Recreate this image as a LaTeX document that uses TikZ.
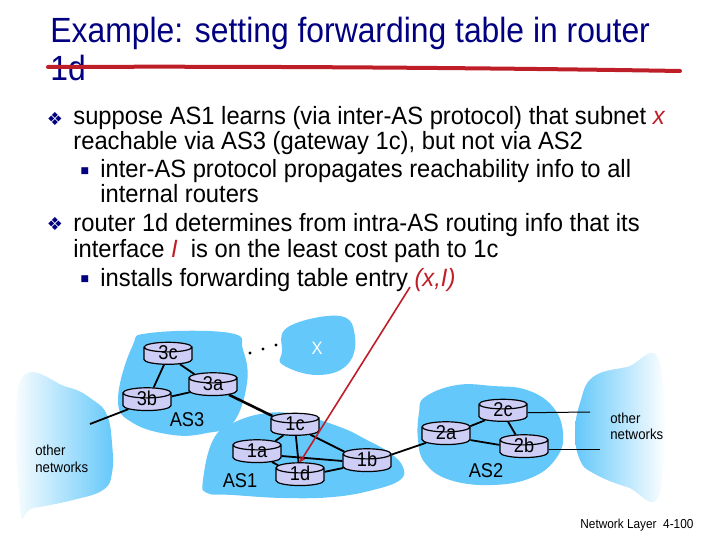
\documentclass[tikz,border=0pt]{standalone}
\usepackage{fontspec}
\setmainfont{Liberation Sans}[FakeStretch=0.91]
\newfontfamily\bodyfont{Liberation Sans}[FakeStretch=0.95]
\newfontfamily\dejavu{DejaVu Sans}
\usetikzlibrary{shapes.geometric}
\definecolor{navy}{RGB}{0,0,128}
\definecolor{slidered}{RGB}{190,30,40}
\definecolor{asblue}{RGB}{100,200,250}
\definecolor{puck}{RGB}{205,205,245}
\begin{document}
\begin{tikzpicture}[x=1pt, y=-1pt, >=stealth, thick,
  txt/.style={anchor=base west, inner sep=0pt, font=\bodyfont\fontsize{25}{25}\selectfont},
  ttl/.style={anchor=base west, inner sep=0pt, text=navy, font=\fontsize{35}{35}\selectfont},
  bul/.style={inner sep=0pt, text=navy, font=\dejavu\fontsize{18}{18}\selectfont},
  subbul/.style={inner sep=0pt, text=navy, font=\dejavu\fontsize{9}{9}\selectfont},
  router/.style={cylinder, shape border rotate=90, aspect=0.5, draw, line width=1.2pt,
    cylinder uses custom fill, cylinder body fill=puck, cylinder end fill=puck,
    minimum width=48pt, minimum height=21pt, inner sep=0pt,
    text height=7pt, text depth=-7pt, font=\fontsize{20}{20}\selectfont},
  wire/.style={line width=1.8pt},
  aslabel/.style={font=\fontsize{20}{20}\selectfont},
  small/.style={anchor=base west, inner sep=0pt, font=\fontsize{14.5}{14.5}\selectfont}]
\useasboundingbox (0,0) rectangle (720,540);

% title
\node[ttl] (title1) at (50,43) {Example: setting forwarding table in router};
\node[ttl] (title2) at (50,81) {1d};
\coordinate (ul1) at (48,67);
\coordinate (ul2) at (680,71);
\draw[slidered, line width=4pt, line cap=round] (ul1) .. controls (250,66) and (500,68) .. (ul2);

% bullets
\node[bul] (b1) at (55,119) {❖};
\node[txt] (l1) at (73,125) {suppose AS1 learns (via inter-AS protocol) that subnet \textcolor{slidered}{\textit{x}}};
\node[txt] (l2) at (73,150) {reachable via AS3 (gateway 1c), but not via AS2};
\node[subbul] (s1) at (85,171) {■};
\node[txt] (l3) at (100,178) {inter-AS protocol propagates reachability info to all};
\node[txt] (l4) at (100,203) {internal routers};
\node[bul] (b2) at (55,224) {❖};
\node[txt] (l5) at (73,231) {router 1d determines from intra-AS routing info that its};
\node[txt] (l6) at (73,257) {interface \textcolor{slidered}{\textit{I}}\ \ is on the least cost path to 1c};
\node[subbul] (s2) at (85,279) {■};
\node[txt] (l7) at (100,286) {installs forwarding table entry \textcolor{slidered}{\textit{(x,I)}}};

% clouds
\shade[left color=white, right color=asblue] plot[smooth cycle, tension=0.7] coordinates
  {(20,382) (67,387) (93,400) (107,415) (112,443) (112,473) (103,490) (73,500) (33,508) (20,508)};
\shade[left color=asblue, right color=white] plot[smooth cycle, tension=0.7] coordinates
  {(580,403) (593,377) (627,367) (660,363) (660,492) (627,487) (593,473) (580,460) (575,433)};
\fill[asblue] plot[smooth cycle, tension=0.7] coordinates
  {(150,333) (230,333) (243,350) (247,383) (233,423) (207,433) (173,435) (133,423) (118,400) (132,347)};
\fill[asblue] plot[smooth cycle, tension=0.7] coordinates
  {(288,327) (340,316) (355,337) (347,365) (317,375) (283,365) (282,352)};
\fill[asblue] plot[smooth cycle, tension=0.7] coordinates
  {(207,493) (203,480) (213,440) (233,423) (267,413) (300,415) (340,427) (367,440) (390,453) (403,467) (400,480) (373,490) (333,497) (283,498) (233,495)};
\fill[asblue] plot[smooth cycle, tension=0.7] coordinates
  {(419,413) (425,397) (457,385) (493,386) (527,390) (553,407) (563,433) (557,457) (533,477) (493,485) (450,480) (425,463) (418,440)};
\foreach \p in {(250,353),(263,349),(276,345)}
  \fill \p circle (1.6);

% routers
\node[router] (r3c) at (168,356) {3c};
\node[router] (r3a) at (213,387) {3a};
\node[router] (r3b) at (147,402) {3b};
\node[router] (r1c) at (295,427) {1c};
\node[router] (r1a) at (257,454) {1a};
\node[router] (r1d) at (300,477) {1d};
\node[router] (r1b) at (367,463) {1b};
\node[router] (r2a) at (446,436) {2a};
\node[router] (r2c) at (503,413) {2c};
\node[router] (r2b) at (524,449) {2b};

% labels
\node[aslabel] (as3) at (187,420) {AS3};
\node[aslabel] (as1) at (240,481) {AS1};
\node[aslabel] (as2) at (486,471) {AS2};
\node[text=white, font=\fontsize{18}{18}\selectfont] (xnet) at (317,348) {X};
\node[small] (on1) at (35,455) {other};
\node[small] (on2) at (35,472) {networks};
\node[small] (on3) at (610,423) {other};
\node[small] (on4) at (610,439) {networks};
\node[anchor=base west, inner sep=0pt, font=\fontsize{13}{13}\selectfont] (foot) at (580,528) {Network Layer\ \ 4-100};

% links
\coordinate (lo) at (90,424);
\coordinate (ro1) at (590,412);
\coordinate (ro2) at (600,449);
\draw[wire] (r3c) -- (r3b);
\draw[wire] (r3c) -- (r3a);
\draw[wire] (r3b) -- (r3a);
\draw[wire] (r3b) -- (lo);
\draw[line width=2.6pt] (r3a) -- (r1c);
\draw[wire] (r1c) -- (r1a);
\draw[wire] (r1c) -- (r1d);
\draw[wire] (r1c) -- (r1b);
\draw[wire] (r1a) -- (r1b);
\draw[wire] (r1a) -- (r1d);
\draw[wire] (r1d) -- (r1b);
\draw[wire] (r1b) -- (r2a);
\draw[wire] (r2a) -- (r2c);
\draw[wire] (r2a) -- (r2b);
\draw[wire] (r2c) -- (r2b);
\draw[line width=1pt] (r2c) -- (ro1);
\draw[line width=1pt] (r2b) -- (ro2);

% arrow to 1d
\coordinate (src) at (410,287);
\draw[->, slidered, line width=1.6pt] (src) -- (r1d.north);
\end{tikzpicture}
\end{document}
